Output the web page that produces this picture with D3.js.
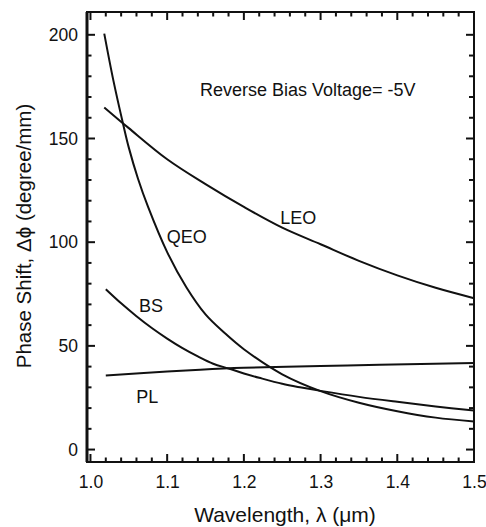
<!DOCTYPE html>
<html>
<head>
<meta charset="utf-8">
<script src="https://cdn.jsdelivr.net/npm/d3@7"></script>
<style>
  body { margin: 0; background: #fff; }
  text { font-family: "Liberation Sans", Arial, Helvetica, sans-serif; fill: #111; }
</style>
</head>
<body>
<div id="chart"></div>
<script>
const WIDTH = 486
const HEIGHT = 527

// values
const leoWavelength = [1.018, 1.05, 1.10, 1.15, 1.20, 1.25, 1.30, 1.35, 1.40, 1.45, 1.50]
const leoShift = [165, 155, 140, 128, 117, 107, 99, 91, 84, 78, 73]

const qeoWavelength = [1.018, 1.03, 1.043, 1.05, 1.062, 1.075, 1.10, 1.125, 1.15, 1.175, 1.20, 1.25, 1.30, 1.35, 1.40, 1.45, 1.50]
const qeoShift = [200.6, 177.8, 156.3, 145.6, 130.6, 117.1, 95.2, 78.3, 65.2, 56.2, 48.4, 36.3, 28.2, 22.6, 18.5, 15.4, 13.5]

const bsWavelength = [1.02, 1.04, 1.06, 1.08, 1.10, 1.12, 1.14, 1.16, 1.18, 1.20, 1.22, 1.25, 1.275, 1.30, 1.35, 1.40, 1.45, 1.50]
const bsShift = [77.3, 70.5, 64.3, 58.6, 53.5, 48.9, 44.9, 41.4, 39.1, 36.7, 34.6, 31.7, 29.9, 28.3, 25.4, 23.0, 20.8, 18.8]

const plWavelength = [1.02, 1.10, 1.143, 1.20, 1.30, 1.377, 1.50]
const plShift = [35.7, 37.6, 38.5, 39.4, 40.3, 40.9, 41.7]

const xTicks = [1.0, 1.1, 1.2, 1.3, 1.4, 1.5]
const yTicks = [0, 50, 100, 150, 200]

const seriesLabels = [
  { name: 'LEO', at: [1.271, 112] },
  { name: 'QEO', at: [1.1255, 102.5] },
  { name: 'BS', at: [1.079, 69.2] },
  { name: 'PL', at: [1.074, 25.5] },
]

const plot = { left: 87, right: 474, top: 12, bottom: 462 }

const x = d3.scaleLinear().domain([0.9955, 1.5]).range([plot.left, plot.right])
const y = d3.scaleLinear().domain([-6, 211]).range([plot.bottom, plot.top])

const svg = d3.select('#chart')
  .append('svg')
  .attr('width', WIDTH)
  .attr('height', HEIGHT)

const xMinor = d3.range(1.0, 1.5001, 0.02).map(v => +v.toFixed(2))
  .filter(v => !xTicks.includes(v))
const yMinor = d3.range(0, 210, 10).filter(v => !yTicks.includes(v))

// inward ticks on all four sides
function drawTicks (values, scale, side, len) {
  const horiz = side === 'bottom' || side === 'top'
  const base = { bottom: plot.bottom, top: plot.top, left: plot.left, right: plot.right }[side]
  const dir = (side === 'bottom' || side === 'right') ? -1 : 1
  svg.append('g').selectAll('line')
    .data(values)
    .join('line')
    .attr('x1', d => horiz ? scale(d) : base)
    .attr('x2', d => horiz ? scale(d) : base + dir * len)
    .attr('y1', d => horiz ? base : scale(d))
    .attr('y2', d => horiz ? base + dir * len : scale(d))
    .attr('stroke', '#111')
    .attr('stroke-width', 2)
}

drawTicks(xMinor, x, 'bottom', 4.5)
drawTicks(xMinor, x, 'top', 4.5)
drawTicks(xTicks, x, 'bottom', 8)
drawTicks(xTicks, x, 'top', 8)
drawTicks(yMinor, y, 'left', 4.5)
drawTicks(yMinor, y, 'right', 5)
drawTicks(yTicks, y, 'left', 8)
drawTicks(yTicks, y, 'right', 8)

// tick labels
svg.append('g')
  .attr('transform', `translate(0,${plot.bottom})`)
  .call(d3.axisBottom(x).tickValues(xTicks).tickSize(0).tickPadding(14).tickFormat(d3.format('.1f')))
svg.append('g')
  .attr('transform', `translate(${plot.left},0)`)
  .call(d3.axisLeft(y).tickValues(yTicks).tickSize(0).tickPadding(9).tickFormat(d3.format('d')))

svg.selectAll('.domain').remove()
svg.selectAll('.tick text')
  .attr('font-size', 17.5)
  .attr('fill', '#111')

// frame
svg.append('rect')
  .attr('x', plot.left).attr('y', plot.top)
  .attr('width', plot.right - plot.left).attr('height', plot.bottom - plot.top)
  .attr('fill', 'none').attr('stroke', '#111').attr('stroke-width', 2)
svg.append('line')
  .attr('x1', plot.left).attr('x2', plot.left)
  .attr('y1', plot.top).attr('y2', plot.bottom)
  .attr('stroke', '#111').attr('stroke-width', 3)

// curves
const line = d3.line()
  .x(d => x(d[0]))
  .y(d => y(d[1]))
  .curve(d3.curveCatmullRom.alpha(0.5))

const series = [
  d3.zip(leoWavelength, leoShift),
  d3.zip(qeoWavelength, qeoShift),
  d3.zip(bsWavelength, bsShift),
  d3.zip(plWavelength, plShift),
]

svg.append('g').selectAll('path')
  .data(series)
  .enter()
  .append('path')
  .attr('d', line)
  .attr('fill', 'none')
  .attr('stroke', '#111')
  .attr('stroke-width', 2)

svg.append('g').selectAll('text')
  .data(seriesLabels)
  .enter()
  .append('text')
  .attr('x', d => x(d.at[0]))
  .attr('y', d => y(d.at[1]))
  .attr('text-anchor', 'middle')
  .attr('dy', '0.35em')
  .attr('font-size', 18)
  .text(d => d.name)

svg.append('text')
  .attr('x', 200).attr('y', 96)
  .attr('font-size', 18)
  .text('Reverse Bias Voltage= -5V')

svg.append('text')
  .attr('x', 285).attr('y', 522)
  .attr('text-anchor', 'middle')
  .attr('font-size', 21)
  .text('Wavelength, λ (μm)')

svg.append('text')
  .attr('transform', 'translate(31,236) rotate(-90)')
  .attr('text-anchor', 'middle')
  .attr('font-size', 20.5)
  .text('Phase Shift, Δϕ (degree/mm)')
</script>
</body>
</html>
